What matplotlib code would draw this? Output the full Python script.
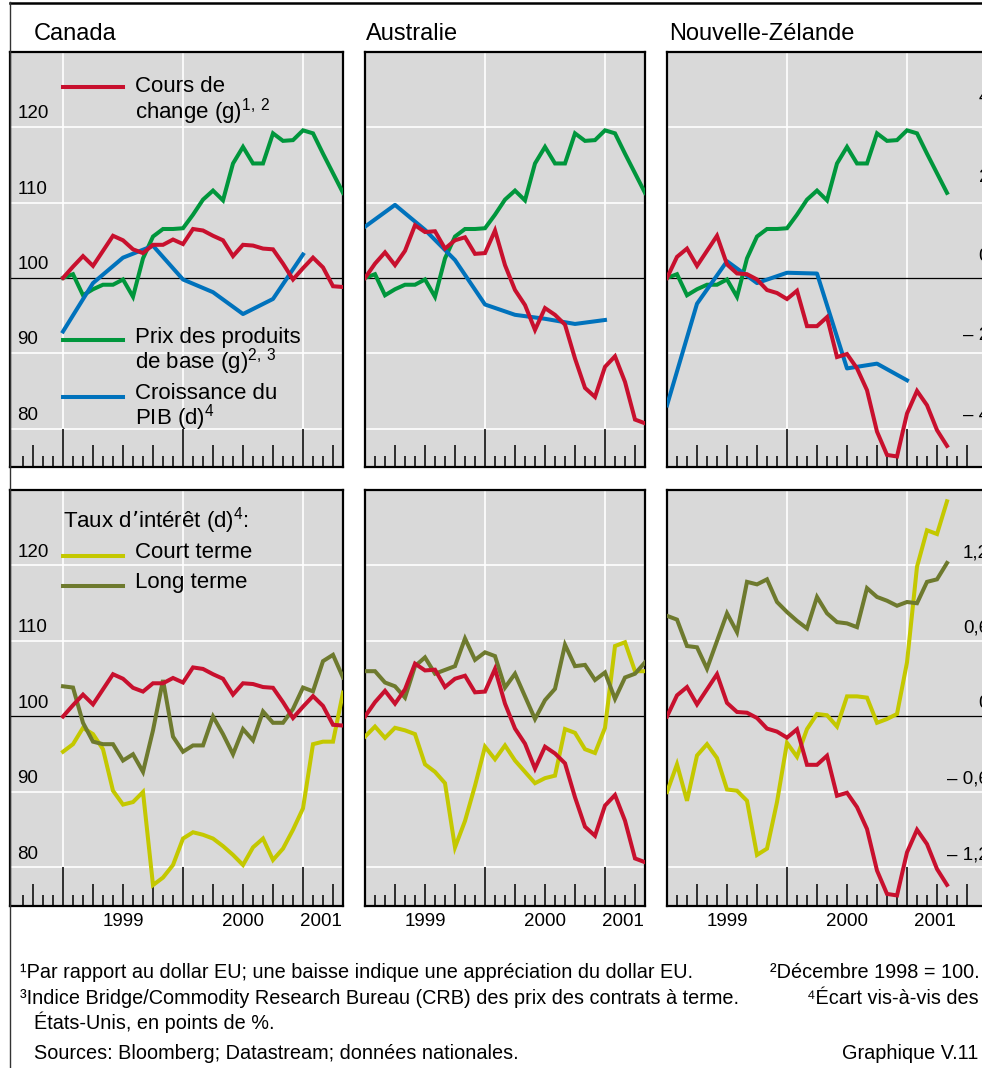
import matplotlib
matplotlib.use("Agg")
import matplotlib.pyplot as plt
from matplotlib.lines import Line2D
import numpy as np

plt.rcParams['font.family'] = ['Liberation Sans', 'DejaVu Sans']
plt.rcParams['mathtext.default'] = 'regular'

W, H = 982, 1068
GREY = '#d9d9d9'
RED = '#c8102e'
GREEN = '#00963c'
BLUE = '#0072bc'
YELLOW = '#c4c800'
OLIVE = '#6e7a2e'

# month index: 0 = December 1998, monthly to April 2001
months = np.arange(29)
quarters = np.arange(0, 25, 3)

# CRB commodity futures index, Dec 1998 = 100 (same in every panel)
commodities = [100.0, 100.5, 97.7, 98.5, 99.1, 99.1, 99.8, 97.5, 102.6, 105.5,
               106.5, 106.5, 106.6, 108.4, 110.4, 111.6, 110.3, 115.2, 117.4,
               115.2, 115.2, 119.2, 118.2, 118.3, 119.6, 119.2, 116.5, 113.9, 111.3]

# exchange rates vs US dollar, Dec 1998 = 100
fx_can = [100.0, 101.5, 102.9, 101.6, 103.6, 105.6, 105.0, 103.8, 103.3, 104.4,
          104.4, 105.1, 104.5, 106.5, 106.3, 105.6, 105.0, 102.9, 104.4, 104.3,
          103.9, 103.8, 101.9, 99.8, 101.3, 102.7, 101.4, 98.9, 98.8]
fx_aus = [100.0, 101.9, 103.4, 101.7, 103.6, 107.0, 106.1, 106.2, 103.9, 105.0,
          105.4, 103.2, 103.3, 106.3, 101.7, 98.4, 96.4, 93.1, 96.0, 95.1,
          93.8, 89.3, 85.4, 84.2, 88.2, 89.6, 86.2, 81.2, 80.7]
fx_nzl = [100.0, 102.8, 103.9, 101.6, 103.6, 105.6, 101.8, 100.6, 100.5, 99.8,
          98.4, 98.0, 97.2, 98.3, 93.6, 93.6, 94.8, 89.5, 89.9, 88.0,
          85.1, 79.6, 76.5, 76.3, 82.0, 85.0, 83.1, 79.8, 77.7]

# GDP growth gap vs United States, percentage points (quarterly)
gdp_can = [-1.55, -0.33, 0.31, 0.61, -0.24, -0.56, -1.11, -0.73, 0.39]
gdp_aus = [1.09, 1.64, 1.01, 0.25, -0.87, -1.13, -1.23, -1.36, -1.26]
gdp_nzl = [-3.41, -0.85, 0.22, -0.33, -0.07, -0.09, -2.48, -2.36, -2.78]

# interest rate gaps vs United States, percentage points
short_can = [-0.28, -0.22, -0.09, -0.14, -0.26, -0.59, -0.70, -0.68, -0.60, -1.34,
             -1.28, -1.18, -0.97, -0.92, -0.94, -0.97, -1.03, -1.10, -1.18, -1.04,
             -0.97, -1.14, -1.05, -0.90, -0.73, -0.22, -0.20, -0.20, 0.19]
long_can = [0.24, 0.23, -0.05, -0.20, -0.22, -0.22, -0.35, -0.30, -0.44, -0.11,
            0.29, -0.16, -0.28, -0.23, -0.23, 0.00, -0.14, -0.30, -0.10, -0.19,
            0.04, -0.05, -0.05, 0.06, 0.23, 0.20, 0.44, 0.49, 0.31]
short_aus = [-0.16, -0.08, -0.17, -0.09, -0.11, -0.14, -0.38, -0.44, -0.53, -1.04,
             -0.83, -0.55, -0.24, -0.34, -0.23, -0.35, -0.44, -0.53, -0.49, -0.47,
             -0.10, -0.13, -0.26, -0.29, -0.09, 0.56, 0.59, 0.36, 0.36]
long_aus = [0.36, 0.36, 0.27, 0.24, 0.15, 0.40, 0.47, 0.34, 0.37, 0.40,
            0.62, 0.45, 0.51, 0.48, 0.23, 0.34, 0.16, -0.02, 0.13, 0.22,
            0.57, 0.40, 0.41, 0.29, 0.35, 0.14, 0.31, 0.34, 0.43]
short_nzl = [-0.60, -0.38, -0.67, -0.31, -0.22, -0.33, -0.58, -0.59, -0.67, -1.10,
             -1.05, -0.68, -0.21, -0.32, -0.10, 0.02, 0.01, -0.08, 0.16, 0.16,
             0.15, -0.05, -0.02, 0.02, 0.43, 1.19, 1.48, 1.45, 1.71]
long_nzl = [0.80, 0.77, 0.56, 0.55, 0.38, 0.60, 0.82, 0.67, 1.07, 1.05,
            1.09, 0.91, 0.83, 0.76, 0.70, 0.95, 0.82, 0.75, 0.74, 0.71,
            1.02, 0.95, 0.92, 0.88, 0.91, 0.90, 1.07, 1.09, 1.22]

left_ticks = [80, 90, 100, 110, 120]
gdp_ticks = [4, 2, 0, -2, -4]
gdp_labels = ['4', '2', '0', '\u2013 2', '\u2013 4']
rate_ticks = [1.2, 0.6, 0, -0.6, -1.2]
rate_labels = ['1,2', '0,6', '0', '\u2013 0,6', '\u2013 1,2']
year_labels = ['1999', '2000', '2001']


def gdp_to_left(r):
    return 101.06 + 5.27 * np.asarray(r)


def rate_to_left(r):
    return 100 + np.asarray(r) / 0.06


fig = plt.figure(figsize=(W / 100, H / 100), dpi=100)


def panel(x0, y0, w, h, xlim, tick_range):
    ax = fig.add_axes([x0 / W, 1 - (y0 + h) / H, w / W, h / H])
    ax.set_facecolor(GREY)
    ax.set_xlim(*xlim)
    ax.set_ylim(74.9, 130)
    ax.set_xticks([])
    ax.set_yticks([])
    for s in ax.spines.values():
        s.set_linewidth(1.6)
        s.set_color('black')
    for v in left_ticks:
        if v == 100:
            ax.axhline(v, color='black', lw=0.9, zorder=2)
        else:
            ax.axhline(v, color='white', lw=1.2, zorder=1)
    yrs = [m for m in (0, 12, 24) if m > xlim[0]]
    ax.vlines(yrs, 80, 130, color='white', lw=1.2, zorder=1)
    ybot = ax.get_ylim()[0]
    for m in tick_range:
        if m % 12 == 0:
            top = 80
        elif m % 3 == 0:
            top = ybot + 2.95
        else:
            top = ybot + 1.5
        ax.vlines(m, ybot, top, color='black', lw=1.1, zorder=1.5)
    return ax


def left_labels(ax):
    for v in left_ticks:
        ax.annotate(str(v), xy=(0, v), xycoords=ax.get_yaxis_transform(),
                    xytext=(5.3, 6.4), textcoords='offset points',
                    ha='left', va='baseline', fontsize=13.5)


lw = 2.9
row1_top, row1_h = 52, 415
row2_top, row2_h = 490, 416

panels = [
    ('Canada', 10, 333, (-5.3, 28), range(-4, 28), 34,
     fx_can, gdp_can, short_can, long_can, [6, 18, 25.8]),
    ('Australie', 365, 280, (0, 28), range(1, 28), 366,
     fx_aus, gdp_aus, short_aus, long_aus, [6, 18, 25.8]),
    ('Nouvelle-Zélande', 667, 333, (0, 33.3), range(1, 31), 669,
     fx_nzl, gdp_nzl, short_nzl, long_nzl, [6, 18, 26.8]),
]

for name, x0, w, xlim, ticks, tx, fx, gdp, srt, lng, ypos in panels:
    fig.text(tx / W, 1 - 40 / H, name, fontsize=17, va='baseline')

    ax1 = panel(x0, row1_top, w, row1_h, xlim, ticks)
    ax1.plot(months, commodities, color=GREEN, lw=lw, zorder=3,
             solid_joinstyle='miter')
    ax1.plot(quarters, gdp_to_left(gdp), color=BLUE, lw=lw, zorder=3.1)
    ax1.plot(months, fx, color=RED, lw=lw, zorder=3.2, solid_joinstyle='miter')

    ax2 = panel(x0, row2_top, w, row2_h, xlim, ticks)
    ax2.plot(months, rate_to_left(srt), color=YELLOW, lw=lw, zorder=3,
             solid_joinstyle='miter')
    ax2.plot(months, rate_to_left(lng), color=OLIVE, lw=lw, zorder=3.1,
             solid_joinstyle='miter')
    ax2.plot(months, fx, color=RED, lw=lw, zorder=3.2, solid_joinstyle='miter')

    for lab, m in zip(year_labels, ypos):
        ax2.annotate(lab, xy=(m, 0), xycoords=('data', 'axes fraction'),
                     xytext=(0, -14.4), textcoords='offset points',
                     ha='center', va='baseline', fontsize=13.5)

    if name == 'Canada':
        left_labels(ax1)
        left_labels(ax2)
        # legend, top panel
        keys = [(RED, 0.916, ['Cours de', 'change (g)$^{1,\\,2}$'], 0.903),
                (GREEN, 0.306, ['Prix des produits', 'de base (g)$^{2,\\,3}$'], 0.299),
                (BLUE, 0.169, ['Croissance du', 'PIB (d)$^{4}$'], 0.164)]
        for col, yl, lines, yt in keys:
            ax1.add_line(Line2D([0, 6], [yl, yl], color=col, lw=lw,
                                transform=ax1.get_xaxis_transform()))
            ax1.text(7.2, yt, lines[0], transform=ax1.get_xaxis_transform(),
                     fontsize=16, va='baseline')
            ax1.text(7.2, yt - 0.0627, lines[1], transform=ax1.get_xaxis_transform(),
                     fontsize=16, va='baseline')
        # legend, bottom panel
        ax2.text(0, 0.91, 'Taux d\u2019intérêt (d)$^{4}$:', transform=ax2.get_xaxis_transform(),
                 fontsize=16, va='baseline')
        for col, yl, lab, yt in [(YELLOW, 0.841, 'Court terme', 0.8375),
                                 (OLIVE, 0.769, 'Long terme', 0.7655)]:
            ax2.add_line(Line2D([0, 6], [yl, yl], color=col, lw=lw,
                                transform=ax2.get_xaxis_transform()))
            ax2.text(7.2, yt, lab, transform=ax2.get_xaxis_transform(),
                     fontsize=16, va='baseline')

    if name == 'Nouvelle-Zélande':
        # right-hand scale sits inside the panel, running past the page edge
        xr = 0.967
        for r, lab in zip(gdp_ticks, gdp_labels):
            ax1.annotate(lab, xy=(xr, gdp_to_left(r)), xycoords=ax1.get_yaxis_transform(),
                         xytext=(0, 6.4), textcoords='offset points',
                         ha='right', va='baseline', fontsize=13.5)
        for r, lab in zip(rate_ticks, rate_labels):
            ax2.annotate(lab, xy=(xr, rate_to_left(r)), xycoords=ax2.get_yaxis_transform(),
                         xytext=(0, 6.0), textcoords='offset points',
                         ha='right', va='baseline', fontsize=13.5)

# outer frame
fig.add_artist(Line2D([10 / W, 1], [1 - 3 / H, 1 - 3 / H], color='black', lw=1.8))
fig.add_artist(Line2D([10 / W, 10 / W], [0, 1 - 2 / H], color='#333333', lw=1.0))

# footnotes
fs = 14.3
fig.text(20 / W, 1 - 978 / H,
         '¹Par rapport au dollar EU; une baisse indique une appréciation du dollar EU.',
         fontsize=fs, va='baseline')
fig.text(980 / W, 1 - 978 / H, '²Décembre 1998 = 100.',
         fontsize=fs, va='baseline', ha='right')
fig.text(20 / W, 1 - 1004 / H,
         '³Indice Bridge/Commodity Research Bureau (CRB) des prix des contrats à terme.',
         fontsize=fs, va='baseline')
fig.text(979 / W, 1 - 1004 / H, '⁴Écart vis-à-vis des',
         fontsize=fs, va='baseline', ha='right')
fig.text(34 / W, 1 - 1029 / H, 'États-Unis, en points de %.',
         fontsize=fs, va='baseline')
fig.text(34 / W, 1 - 1059 / H, 'Sources: Bloomberg; Datastream; données nationales.',
         fontsize=fs, va='baseline')
fig.text(978 / W, 1 - 1059 / H, 'Graphique V.11',
         fontsize=fs, va='baseline', ha='right')

fig.savefig('out.png', dpi=100)
